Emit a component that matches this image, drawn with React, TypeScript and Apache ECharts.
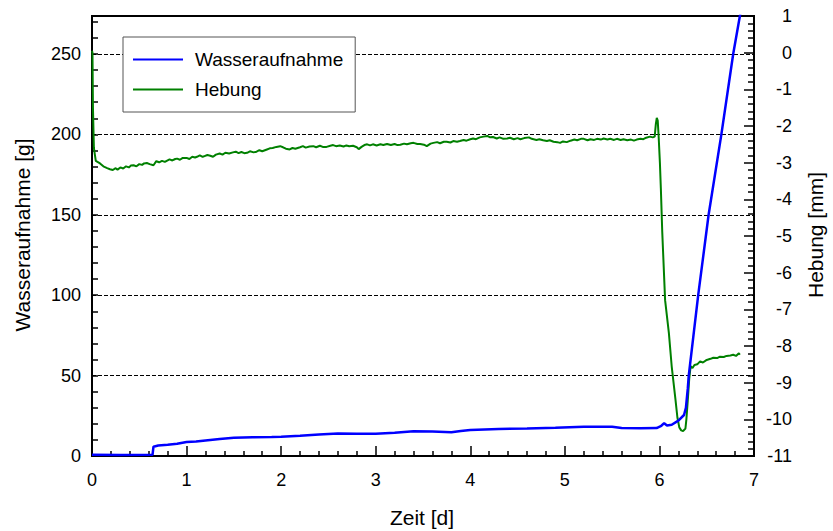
import React, { useEffect, useRef } from "react";
import * as echarts from "echarts";

// Zeit [d] vs Wasseraufnahme [g]
const wasserZeit: number[] = [0, 0.3, 0.64, 0.65, 0.7, 0.8, 0.9, 1.0, 1.1, 1.2, 1.35, 1.5, 1.7, 1.9, 2.0, 2.2, 2.4, 2.6, 2.8, 3.0, 3.2, 3.4, 3.6, 3.8, 3.9, 4.0, 4.3, 4.6, 4.9, 5.2, 5.5, 5.6, 5.8, 5.97, 6.02, 6.05, 6.08, 6.13, 6.2, 6.26, 6.28, 6.3, 6.31, 6.36, 6.41, 6.52, 6.655, 6.78, 6.87];
const wasserWerte: number[] = [0.8, 0.6, 0.7, 5.8, 6.5, 7.0, 7.6, 8.7, 9.0, 9.6, 10.5, 11.3, 11.7, 11.8, 12.0, 12.6, 13.3, 14.0, 13.8, 13.9, 14.4, 15.4, 15.2, 14.8, 15.6, 16.2, 16.8, 17.1, 17.6, 18.2, 18.2, 17.4, 17.2, 17.4, 18.8, 20.4, 19.0, 19.4, 22.0, 25.5, 30, 42, 50, 75, 100, 150, 200, 250, 280];

// Zeit [d] vs Hebung [mm]
const hebungZeit: number[] = [
  0, 0.005, 0.01, 0.02, 0.04, 0.085, 0.12, 0.16, 0.19, 0.22, 0.25, 0.27, 0.3, 0.33, 0.36, 0.39, 0.41, 0.44, 0.47, 0.5,
  0.53, 0.55, 0.58, 0.61, 0.65, 0.68, 0.71, 0.74, 0.77, 0.79, 0.82, 0.85, 0.88, 0.9, 0.93, 0.96, 1.0, 1.03, 1.06, 1.09,
  1.11, 1.14, 1.17, 1.19, 1.22, 1.25, 1.28, 1.31, 1.35, 1.38, 1.41, 1.45, 1.49, 1.52, 1.55, 1.58, 1.61, 1.64, 1.67, 1.71,
  1.74, 1.77, 1.8, 1.85, 1.88, 1.91, 1.95, 1.99, 2.02, 2.05, 2.09, 2.12, 2.15, 2.2, 2.23, 2.26, 2.3, 2.34, 2.37, 2.41,
  2.44, 2.48, 2.52, 2.55, 2.58, 2.62, 2.66, 2.69, 2.72, 2.76, 2.8, 2.82, 2.85, 2.88, 2.91, 2.94, 2.97, 3.01, 3.05, 3.08,
  3.12, 3.16, 3.2, 3.23, 3.26, 3.3, 3.33, 3.37, 3.4, 3.44, 3.47, 3.51, 3.54, 3.58, 3.61, 3.65, 3.68, 3.72, 3.75, 3.79,
  3.82, 3.86, 3.89, 3.93, 3.96, 4.0, 4.03, 4.06, 4.1, 4.14, 4.18, 4.21, 4.24, 4.28, 4.31, 4.35, 4.39, 4.42, 4.46, 4.5,
  4.53, 4.57, 4.62, 4.65, 4.7, 4.73, 4.77, 4.81, 4.84, 4.88, 4.92, 4.95, 4.98, 5.02, 5.06, 5.1, 5.13, 5.17, 5.2, 5.24,
  5.27, 5.31, 5.34, 5.38, 5.41, 5.45, 5.48, 5.52, 5.55, 5.59, 5.62, 5.66, 5.7, 5.73, 5.76, 5.8, 5.83, 5.86, 5.9, 5.93,
  5.95, 5.962, 5.972, 5.982, 5.992, 6.005, 6.015, 6.03, 6.06, 6.1, 6.13, 6.17, 6.19, 6.21, 6.23, 6.25, 6.275, 6.285, 6.3, 6.315,
  6.33, 6.35, 6.37, 6.4, 6.43, 6.46, 6.5, 6.54, 6.57, 6.61, 6.64, 6.68, 6.71, 6.75, 6.78, 6.81, 6.84, 6.85,
];
const hebungWerte: number[] = [
  0.05, 0.0, -1.5, -2.6, -2.95, -3.02, -3.1, -3.15, -3.18, -3.2, -3.15, -3.19, -3.13, -3.16, -3.1, -3.13, -3.08, -3.07, -3.1, -3.04,
  -3.06, -3.02, -3.01, -3.04, -3.07, -2.96, -2.99, -2.95, -2.98, -2.95, -2.91, -2.94, -2.9, -2.89, -2.92, -2.87, -2.87, -2.9, -2.84, -2.86,
  -2.84, -2.8, -2.84, -2.82, -2.79, -2.81, -2.84, -2.78, -2.75, -2.78, -2.73, -2.75, -2.72, -2.7, -2.74, -2.71, -2.74, -2.73, -2.69, -2.72,
  -2.7, -2.66, -2.69, -2.64, -2.61, -2.6, -2.57, -2.55, -2.58, -2.62, -2.64, -2.6, -2.62, -2.58, -2.55, -2.59, -2.56, -2.55, -2.58, -2.54,
  -2.57, -2.57, -2.54, -2.52, -2.55, -2.53, -2.56, -2.53, -2.55, -2.54, -2.58, -2.63, -2.57, -2.52, -2.5, -2.53, -2.5, -2.53, -2.5, -2.52,
  -2.49, -2.52, -2.49, -2.52, -2.51, -2.48, -2.5, -2.47, -2.46, -2.49, -2.49, -2.51, -2.55, -2.48, -2.46, -2.44, -2.47, -2.43, -2.43, -2.45,
  -2.41, -2.43, -2.41, -2.38, -2.4, -2.36, -2.34, -2.36, -2.31, -2.29, -2.27, -2.31, -2.3, -2.34, -2.31, -2.35, -2.34, -2.32, -2.36, -2.33,
  -2.36, -2.33, -2.31, -2.35, -2.38, -2.36, -2.39, -2.41, -2.39, -2.43, -2.44, -2.46, -2.42, -2.44, -2.4, -2.37, -2.39, -2.35, -2.35, -2.39,
  -2.36, -2.38, -2.35, -2.37, -2.34, -2.37, -2.35, -2.38, -2.35, -2.38, -2.36, -2.39, -2.37, -2.4, -2.37, -2.35, -2.36, -2.32, -2.29, -2.31,
  -2.29, -1.95, -1.78, -1.85, -2.3, -3.0, -3.7, -4.9, -6.75, -7.65, -8.56, -9.47, -9.95, -10.22, -10.3, -10.32, -10.25, -10.0, -9.47, -8.9,
  -8.55, -8.6, -8.52, -8.5, -8.42, -8.45, -8.38, -8.35, -8.32, -8.33, -8.29, -8.3, -8.27, -8.26, -8.24, -8.27, -8.2, -8.24,
];

const FONT = "'Liberation Sans', Arial, sans-serif";

export default function App() {
  const ref = useRef<HTMLDivElement>(null);
  useEffect(() => {
    if (!ref.current) return;
    const chart = echarts.init(ref.current, undefined, { renderer: "svg" });
    const blue = wasserZeit.map((x, i) => [x, wasserWerte[i]]);
    const green = hebungZeit.map((x, i) => [x, hebungWerte[i]]);
    const tick = { color: "#000", width: 1.5 };
    const nameStyle = (text: string) => ({
      text, fontSize: 21, fontFamily: FONT, fill: "#000",
      align: "center", verticalAlign: "middle", textAlign: "center", textVerticalAlign: "middle",
    });
    chart.setOption({
      animation: false,
      backgroundColor: "#fff",
      textStyle: { fontFamily: FONT },
      grid: {
        left: 92, right: 79, top: 16, bottom: 75,
        show: true, borderColor: "#000", borderWidth: 2, backgroundColor: "transparent",
      },
      legend: {
        left: 123, top: 37, orient: "vertical",
        padding: [13, 12, 13, 10],
        itemWidth: 50, itemHeight: 2, itemGap: 11, icon: "rect",
        backgroundColor: "#fff", borderColor: "#555", borderWidth: 1,
        textStyle: { fontSize: 19, color: "#000", fontFamily: FONT, padding: [0, 0, 0, 7] },
        data: ["Wasseraufnahme", "Hebung"],
      },
      graphic: [
        { type: "text", x: 422, y: 517, silent: true, style: nameStyle("Zeit [d]") },
        { type: "text", x: 22, y: 235, rotation: Math.PI / 2, silent: true, style: nameStyle("Wasseraufnahme [g]") },
        { type: "text", x: 815, y: 235, rotation: Math.PI / 2, silent: true, style: nameStyle("Hebung [mm]") },
      ],
      xAxis: {
        type: "value", min: 0, max: 7, interval: 1, position: "bottom",
        axisLine: { show: true, onZero: false, lineStyle: { color: "#000", width: 2 } },
        axisTick: { show: true, inside: true, length: 10, lineStyle: tick },
        minorTick: { show: true, splitNumber: 5, length: 5, lineStyle: tick },
        axisLabel: { fontSize: 18, color: "#000", margin: 15, fontFamily: FONT },
        splitLine: { show: false },
      },
      yAxis: [
        {
          type: "value", min: 0, max: 273.6, interval: 50, position: "left",
          axisLine: { show: true, onZero: false, lineStyle: { color: "#000", width: 2 } },
          axisTick: { show: true, inside: true, length: 6, lineStyle: tick },
          minorTick: { show: true, splitNumber: 5, length: 6, lineStyle: tick },
          axisLabel: { fontSize: 18, color: "#000", margin: 11, fontFamily: FONT, showMaxLabel: false },
          splitLine: { show: true, lineStyle: { color: "#000", width: 1, type: [4, 2] } },
        },
        {
          type: "value", min: -11, max: 1, interval: 1, position: "right",
          axisLine: { show: true, onZero: false, lineStyle: { color: "#000", width: 2 } },
          axisTick: { show: true, inside: true, length: 10, lineStyle: tick },
          minorTick: { show: true, splitNumber: 5, length: 6, lineStyle: tick },
          axisLabel: { fontSize: 18, color: "#000", margin: 38, align: "right", fontFamily: FONT },
          splitLine: { show: false },
        },
      ],
      series: [
        {
          name: "Hebung", type: "line", yAxisIndex: 1, data: green,
          symbol: "none", showSymbol: false,
          lineStyle: { color: "#008000", width: 2 }, itemStyle: { color: "#008000" },
        },
        {
          name: "Wasseraufnahme", type: "line", yAxisIndex: 0, data: blue,
          symbol: "none", showSymbol: false,
          lineStyle: { color: "#0000ff", width: 2.5 }, itemStyle: { color: "#0000ff" },
        },
      ],
    });
    return () => chart.dispose();
  }, []);
  return <div ref={ref} style={{ position: "fixed", left: 0, top: 0, width: 833, height: 531 }} />;
}
